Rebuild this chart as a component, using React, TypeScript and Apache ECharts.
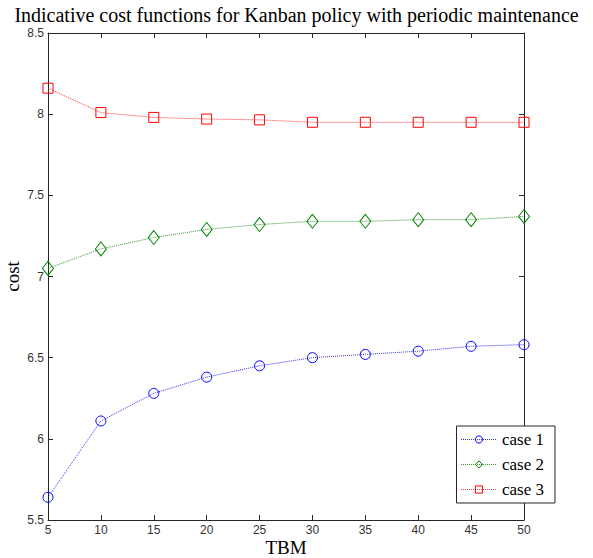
import React, { useEffect, useRef } from "react";
import * as echarts from "echarts";

const tbm = [5, 10, 15, 20, 25, 30, 35, 40, 45, 50];
const case1 = [5.64, 6.11, 6.28, 6.38, 6.45, 6.5, 6.52, 6.54, 6.57, 6.58];
const case2 = [7.05, 7.17, 7.24, 7.29, 7.32, 7.34, 7.34, 7.35, 7.35, 7.37];
const case3 = [8.16, 8.01, 7.98, 7.97, 7.965, 7.95, 7.95, 7.95, 7.95, 7.95];
const seriesNames = ["case 1", "case 2", "case 3"];

const pair = (ys: number[]) => tbm.map((x, i) => [x, ys[i]]);

export default function App() {
  const ref = useRef<HTMLDivElement>(null);
  useEffect(() => {
    const chart = echarts.init(ref.current!, null, { renderer: "svg" });
    const serif = "Liberation Serif, Times New Roman, serif";
    const tickLabel = { fontFamily: "Liberation Sans, Arial, sans-serif", fontSize: 12, color: "#333333" };
    const axisLine = { show: true, lineStyle: { color: "#262626", width: 1 } };
    const tick = { show: true, inside: true, length: 5, lineStyle: { color: "#262626" } };
    const mk = (name: string, data: number[], color: string, symbol: string, size: any) => ({
      name,
      type: "line",
      data: pair(data),
      symbol,
      symbolSize: size,
      showAllSymbol: true,
      itemStyle: { color: "rgba(255,255,255,0)", borderColor: color, borderWidth: 1 },
      lineStyle: { color, type: "dotted", width: 1, opacity: 0.8 },
    });
    chart.setOption({
      animation: false,
      backgroundColor: "#ffffff",
      title: {
        text: "Indicative cost functions for Kanban policy with periodic maintenance",
        left: "center",
        top: 0,
        textStyle: { fontFamily: serif, fontSize: 20, fontWeight: "normal", color: "#000" },
      },
      grid: { left: 48, right: 69, top: 33, bottom: 38, outerBoundsMode: "none", containLabel: false },
      legend: {
        right: 38,
        top: 426,
        orient: "vertical",
        data: seriesNames,
        itemWidth: 36,
        itemHeight: 9,
        itemGap: 8,
        padding: [5, 11, 5, 4],
        borderColor: "#262626",
        borderWidth: 1,
        borderRadius: 0,
        backgroundColor: "#fff",
        itemStyle: { borderWidth: 1 },
        lineStyle: { width: 1, type: "dotted" },
        textStyle: { fontFamily: serif, fontSize: 17, color: "#000" },
      },
      xAxis: [
        {
          type: "value",
          min: 5,
          max: 50,
          interval: 5,
          name: "TBM",
          nameLocation: "middle",
          nameGap: 18,
          nameMoveOverlap: false,
          nameTextStyle: { fontFamily: serif, fontSize: 19, color: "#000" },
          axisLine,
          axisTick: tick,
          axisLabel: { ...tickLabel, margin: 4 },
          splitLine: { show: false },
        },
        {
          type: "value",
          position: "top",
          min: 5,
          max: 50,
          interval: 5,
          axisLine,
          axisTick: tick,
          axisLabel: { show: false },
          splitLine: { show: false },
        },
      ],
      yAxis: [
        {
          type: "value",
          min: 5.5,
          max: 8.5,
          interval: 0.5,
          name: "cost",
          nameLocation: "middle",
          nameGap: 26,
          nameMoveOverlap: false,
          nameTextStyle: { fontFamily: serif, fontSize: 19, color: "#000" },
          axisLine,
          axisTick: tick,
          axisLabel: { ...tickLabel, margin: 4, formatter: (v: number) => String(v) },
          splitLine: { show: false },
        },
        {
          type: "value",
          position: "right",
          min: 5.5,
          max: 8.5,
          interval: 0.5,
          axisLine,
          axisTick: tick,
          axisLabel: { show: false },
          splitLine: { show: false },
        },
      ],
      series: [
        mk(seriesNames[0], case1, "#0000ff", "circle", 10),
        mk(seriesNames[1], case2, "#008000", "diamond", [11, 14]),
        mk(seriesNames[2], case3, "#ff0000", "rect", 10),
      ],
    });
    return () => chart.dispose();
  }, []);
  return <div ref={ref} style={{ position: "fixed", left: 0, top: 0, width: 593, height: 558 }} />;
}
